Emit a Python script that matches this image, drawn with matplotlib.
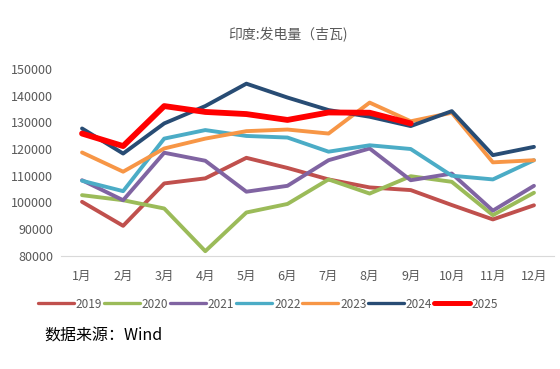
import matplotlib
matplotlib.use("Agg")
import matplotlib.pyplot as plt

plt.rcParams['font.family'] = ['Noto Sans CJK SC', 'DejaVu Sans']

months = ["1月", "2月", "3月", "4月", "5月", "6月", "7月", "8月", "9月", "10月", "11月", "12月"]

y2019 = [100200, 91200, 107100, 109000, 116700, 112900, 108600, 105600, 104600, 99000, 93600, 98900]
y2020 = [102700, 100800, 97700, 81700, 96200, 99400, 108600, 103300, 109800, 107700, 95200, 103600]
y2021 = [108300, 100800, 118600, 115600, 104000, 106200, 115800, 120200, 108300, 110800, 96900, 106200]
y2022 = [108100, 104200, 123900, 127100, 124900, 124300, 119000, 121400, 120000, 110000, 108600, 115800]
y2023 = [118700, 111500, 120200, 123900, 126700, 127300, 125800, 137400, 130400, 133600, 115000, 115800]
y2024 = [127700, 118300, 129600, 136100, 144500, 139300, 134600, 132100, 128600, 134200, 117700, 120800]
y2025 = [125800, 121100, 136100, 133900, 133100, 130900, 133700, 133600, 129600]

series = [
    ("2019", y2019, "#C0504D", 2.8),
    ("2020", y2020, "#9BBB59", 2.8),
    ("2021", y2021, "#8064A2", 2.8),
    ("2022", y2022, "#4BACC6", 2.8),
    ("2023", y2023, "#F79646", 2.8),
    ("2024", y2024, "#284C74", 2.8),
    ("2025", y2025, "#FF0000", 4.2),
]

fig = plt.figure(figsize=(5.6, 3.69), dpi=100)
ax = fig.add_axes([61.5/560, 1-255.7/369, 493/560, (255.7-69)/369])

x = list(range(len(months)))
for name, vals, col, lw in series:
    ax.plot(x[:len(vals)], vals, color=col, lw=lw, label=name,
            solid_capstyle='round', clip_on=False)

ax.set_xlim(-0.5, 11.5)
ax.set_ylim(80000, 150000)
ax.set_yticks(range(80000, 150001, 10000))
ax.set_xticks(x)
ax.set_xticklabels(months)
for s in ['top', 'right', 'left']:
    ax.spines[s].set_visible(False)
ax.spines['bottom'].set_color('#D9D9D9')
ax.tick_params(axis='both', length=0, colors='#595959', labelsize=9)
ax.tick_params(axis='x', pad=10)
ax.tick_params(axis='y', pad=6)

fig.text(288/560, 1-35/369, "印度:发电量（吉瓦)", ha='center', va='center',
         fontsize=10, color='#595959')

leg = fig.legend(loc='center', bbox_to_anchor=(268/560, 1-304/369), ncol=7,
                 frameon=False, handlelength=3.1, handletextpad=0.15,
                 columnspacing=0.1, fontsize=8.5, labelcolor='#595959')
for h in leg.get_lines():
    h.set_linewidth(h.get_linewidth() * 0.85)

fig.text(44/560, 1-336/369, "数据来源：Wind", ha='left', va='center',
         fontsize=11.5, color='black')

fig.savefig("out.png", dpi=100)
